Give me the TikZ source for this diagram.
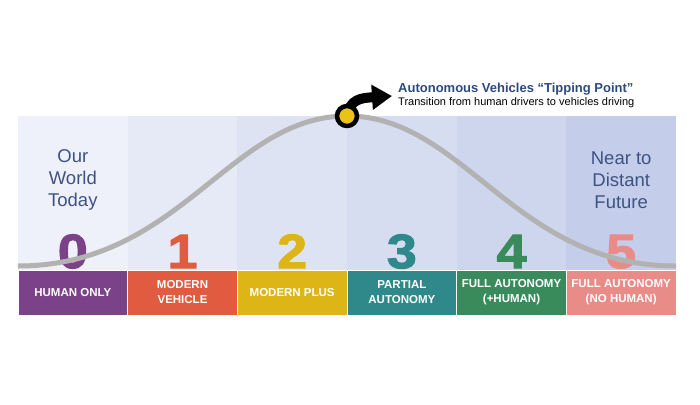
\documentclass[tikz,border=0pt]{standalone}
\usepackage{fontspec}
\setmainfont{Liberation Sans}
\newfontfamily\digitfont{Liberation Sans Bold}[FakeBold=2.4,FakeStretch=1.12]
\usetikzlibrary{arrows.meta,positioning,calc}
\definecolor{panelA}{HTML}{EEF1F9}
\definecolor{panelB}{HTML}{E6EAF6}
\definecolor{panelC}{HTML}{DEE3F3}
\definecolor{panelD}{HTML}{D6DDF0}
\definecolor{panelE}{HTML}{CED6EE}
\definecolor{panelF}{HTML}{C4CEEA}
\definecolor{lvlA}{HTML}{7B4189}
\definecolor{lvlB}{HTML}{E15B40}
\definecolor{lvlC}{HTML}{DDB516}
\definecolor{lvlD}{HTML}{2F898B}
\definecolor{lvlE}{HTML}{3A8B5C}
\definecolor{lvlF}{HTML}{E98B87}
\definecolor{curvegray}{HTML}{B2B2B2}
\definecolor{dotyellow}{HTML}{EBC316}
\definecolor{headblue}{HTML}{2C4A7E}
\definecolor{eratext}{HTML}{3E5383}
\tikzset{
  panel/.style={draw=none,minimum width=109.67pt,minimum height=154pt,
                inner sep=0pt,outer sep=0pt},
  lvlbox/.style={draw=white,line width=0.8pt,minimum width=109.67pt,minimum height=45pt,
                 inner sep=0pt,outer sep=0pt,align=center,text=white,
                 font=\fontsize{11.5}{15}\selectfont\bfseries},
  digit/.style={inner sep=0pt,font=\digitfont\fontsize{48}{48}\selectfont},
  eranote/.style={align=center,text=eratext,inner sep=0pt,
                  font=\fontsize{18.5}{22}\selectfont},
  bell/.style={draw=curvegray,line width=5pt},
  tipdot/.style={circle,draw=black,fill=dotyellow,line width=4.5pt,
                 minimum size=20pt,inner sep=0pt},
  tiparrow/.style={-{Triangle[length=20pt,width=24pt]},line width=10pt,black},
  headline/.style={inner sep=0pt,text=headblue,font=\fontsize{13}{16}\selectfont\bfseries},
  subline/.style={inner sep=0pt,font=\fontsize{11}{13}\selectfont}
}
\begin{document}
\begin{tikzpicture}[x=1pt,y=-1pt]
  \useasboundingbox[fill=white] (0,0) rectangle (700,404);
  % six stages
  \foreach \i/\pc/\bc/\lab in {0/panelA/lvlA/{HUMAN ONLY},1/panelB/lvlB/{MODERN\\VEHICLE},
      2/panelC/lvlC/{MODERN PLUS},3/panelD/lvlD/{PARTIAL\\AUTONOMY},
      4/panelE/lvlE/{FULL AUTONOMY\\(+HUMAN)},5/panelF/lvlF/{FULL AUTONOMY\\(NO HUMAN)}} {
    \node[panel,fill=\pc] (p\i) at ({72.83+109.67*\i},193) {};
    \node[lvlbox,fill=\bc,below=0pt of p\i] (b\i) {\lab};
    \node[digit,text=\bc,anchor=base] (d\i) at ($(p\i.south)+(0,-2)$) {\i};
  }
  \node[eranote] (today) at ($(p0.north)+(0,64)$) {Our\\World\\Today};
  \node[eranote] (future) at ($(p5.north)+(0,64)$) {Near to\\Distant\\Future};
  % the curve
  \coordinate (c0) at ($(p0.south west)+(0,-4)$);
  \coordinate (c1) at ($(p5.south east)+(0,-4)$);
  \coordinate (peak) at (347,116);
  \draw[bell] (c0) .. controls +(162,0) and +(-117,0) .. (peak)
                   .. controls +(117,0) and +(-162,0) .. (c1);
  \coordinate (aim) at (392,96);
  \draw[tiparrow] (peak) .. controls (350,99) and (361,98) .. (aim);
  \node[tipdot] (dot) at (peak) {};
  \node[headline,anchor=base west] (title) at (398,92) {Autonomous Vehicles “Tipping Point”};
  \node[subline,anchor=base west] (sub) at (398,105.5) {Transition from human drivers to vehicles driving};
\end{tikzpicture}
\end{document}
